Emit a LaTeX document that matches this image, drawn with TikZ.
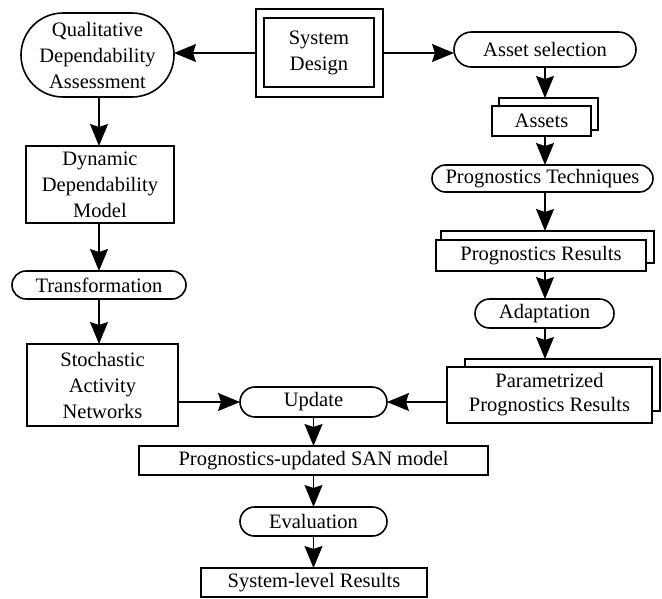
\documentclass[tikz,border=0pt]{standalone}
\usepackage{fontspec}
\setmainfont{Liberation Serif}
\usetikzlibrary{shapes.misc,arrows.meta}
\begin{document}
\begin{tikzpicture}[x=1pt,y=-1pt,
  every node/.style={inner sep=0pt,outer sep=0pt,align=center,font=\fontsize{20.5}{26}\selectfont},
  bx/.style={draw,line width=1.7pt,fill=white,rectangle},
  pill/.style={draw,line width=1.6pt,fill=white,rounded rectangle,rounded rectangle arc length=180},
  conn/.style={line width=1.6pt,-{Stealth[length=22pt,width=18pt,inset=3pt]}}
]
\useasboundingbox (0,0) rectangle (662,598);
% System design (double box)
\node[bx,line width=2.2pt,minimum width=127pt,minimum height=88pt] (sd) at (319.5,53) {};
\node[bx,minimum width=110pt,minimum height=69pt] (sdin) at (319,52.5) {System\\Design};
% left column
\node[pill,minimum width=153pt,minimum height=84pt] (qda) at (97.5,55) {Qualitative\\Dependability\\Assessment};
\node[bx,minimum width=148pt,minimum height=77pt] (ddm) at (100,184.5) {Dynamic\\Dependability\\Model};
\node[pill,minimum width=174pt,minimum height=28pt] (trans) at (99,285) {Transformation};
\node[bx,minimum width=151pt,minimum height=82pt] (san) at (102.5,385) {Stochastic\\Activity\\Networks};
% right column
\node[pill,minimum width=182pt,minimum height=35pt] (asel) at (545,49.5) {Asset selection};
\node[bx,minimum width=99pt,minimum height=32pt] (assetsB) at (548.5,114) {};
\node[bx,minimum width=99pt,minimum height=30pt] (assets) at (541.5,121) {Assets};
\node[pill,minimum width=221pt,minimum height=27pt] (pt) at (542.5,178.5) {Prognostics Techniques};
\node[bx,minimum width=213pt,minimum height=32pt] (prB) at (547.5,247) {};
\node[bx,minimum width=210pt,minimum height=31pt] (pr) at (541,255.5) {Prognostics Results};
\node[pill,minimum width=139pt,minimum height=29pt] (adapt) at (544.5,313.5) {Adaptation};
\node[bx,minimum width=195pt,minimum height=52pt] (paramB) at (562.5,385) {};
\node[bx,minimum width=205pt,minimum height=56pt,font=\fontsize{20.5}{24}\selectfont] (param) at (549.5,395) {Parametrized\\Prognostics Results};
% bottom column
\node[pill,minimum width=147pt,minimum height=30pt] (upd) at (313.5,402) {Update};
\node[bx,minimum width=349pt,minimum height=29pt] (sanu) at (313.5,460.5) {Prognostics-updated SAN model};
\node[pill,minimum width=147pt,minimum height=29pt] (eval) at (313.5,521.5) {Evaluation};
\node[bx,minimum width=226pt,minimum height=29pt] (slr) at (314,582.5) {System-level Results};
% connectors
\draw[conn] (sd.west) -- (sd.west -| qda.east);
\draw[conn] (sd.east) -- (sd.east -| asel.west);
\draw[conn] (qda.south -| 99,0) -- (ddm.north -| 99,0);
\draw[conn] (ddm.south -| 99,0) -- (trans.north -| 99,0);
\draw[conn] (trans.south -| 99,0) -- (san.north -| 99,0);
\draw[conn] (asel.south) -- (asel.south |- assetsB.north);
\draw[conn] (assets.south -| asel.south) -- (pt.north -| asel.south);
\draw[conn] (pt.south -| asel.south) -- (prB.north -| asel.south);
\draw[conn] (pr.south -| asel.south) -- (adapt.north -| asel.south);
\draw[conn] (adapt.south -| asel.south) -- (paramB.north -| asel.south);
\draw[conn] (upd.west -| san.east) -- (upd.west);
\draw[conn] (upd.east -| param.west) -- (upd.east);
\draw[conn] (upd.south) -- (sanu.north -| upd.south);
\draw[conn] (sanu.south -| upd.south) -- (eval.north -| upd.south);
\draw[conn] (eval.south) -- (slr.north -| eval.south);
\end{tikzpicture}
\end{document}
